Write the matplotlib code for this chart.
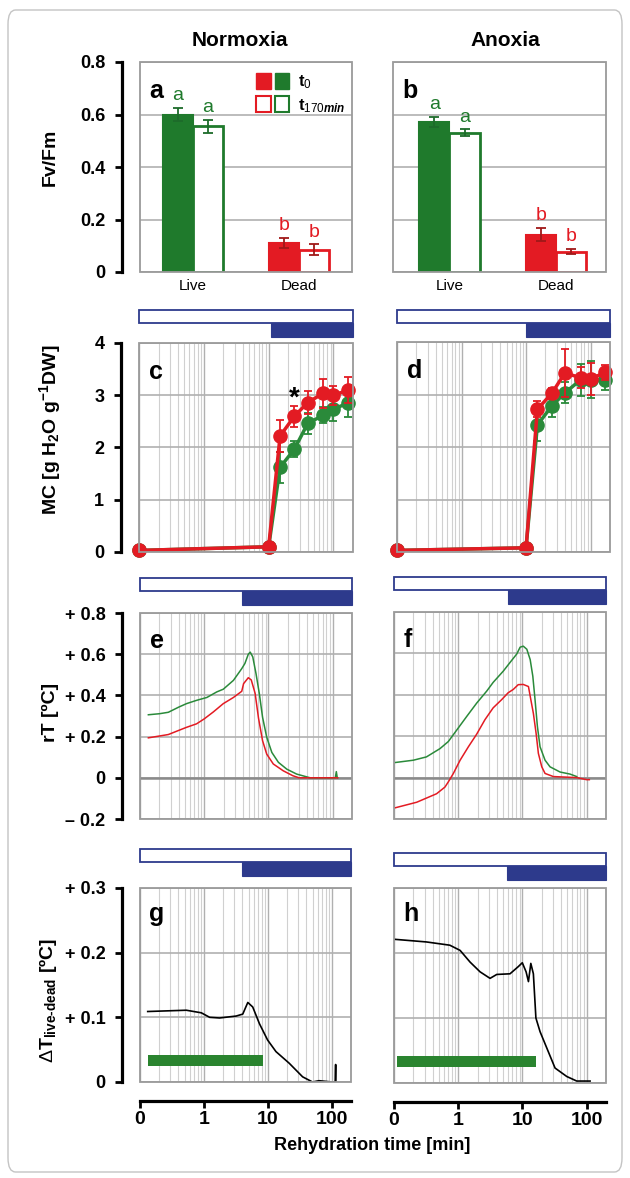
import numpy as np
import matplotlib
matplotlib.use("Agg")
import matplotlib.pyplot as plt
from matplotlib.patches import Rectangle, Patch, FancyBboxPatch
from matplotlib.legend_handler import HandlerTuple
from matplotlib.transforms import blended_transform_factory
from matplotlib.ticker import FixedLocator, LogLocator, NullFormatter

plt.rcParams['font.family'] = ['Liberation Sans', 'DejaVu Sans']
plt.rcParams['mathtext.fontset'] = 'custom'
plt.rcParams['mathtext.rm'] = 'Liberation Sans'
plt.rcParams['mathtext.bf'] = 'Liberation Sans:bold'
plt.rcParams['mathtext.it'] = 'Liberation Sans:italic:bold'

GREEN = '#1f7a2c'
GREEN_L = '#2a8a3a'
GREEN_E = '#1d6b2a'
RED = '#e31b23'
RED_E = '#a01818'
BLUE = '#2d3a8c'
FRAME = '#9a9a9a'
GRID = '#b0b0b0'
MINOR = '#d0d0d0'

# ---- Fv/Fm (panels a, b) ----
groups = ['Live', 'Dead']
sig_letters = ['a', 'b']
fv_norm_t0 = [0.60, 0.11]
fv_norm_t0_err = [0.025, 0.02]
fv_norm_t170 = [0.555, 0.085]
fv_norm_t170_err = [0.025, 0.02]
fv_anox_t0 = [0.572, 0.142]
fv_anox_t0_err = [0.02, 0.025]
fv_anox_t170 = [0.53, 0.078]
fv_anox_t170_err = [0.013, 0.01]

# ---- moisture content (panels c, d) ----
mc_t = [0.1, 10, 15, 25, 40, 70, 100, 170]
mc_norm_live = [0.03, 0.1, 1.62, 1.97, 2.46, 2.62, 2.73, 2.86]
mc_norm_live_err = [0, 0, 0.3, 0.15, 0.2, 0.15, 0.22, 0.28]
mc_norm_dead = [0.03, 0.1, 2.22, 2.6, 2.86, 3.04, 3.0, 3.1]
mc_norm_dead_err = [0, 0, 0.3, 0.2, 0.22, 0.28, 0.18, 0.25]
mc_anox_live = [0.03, 0.08, 2.42, 2.78, 3.03, 3.28, 3.28, 3.28]
mc_anox_live_err = [0, 0, 0.3, 0.2, 0.2, 0.3, 0.35, 0.2]
mc_anox_dead = [0.03, 0.08, 2.72, 3.02, 3.41, 3.32, 3.3, 3.42]
mc_anox_dead_err = [0, 0, 0.15, 0.1, 0.45, 0.2, 0.3, 0.15]

# ---- relative temperature (panels e, f) ----
rt_norm_live_t = [0.135, 0.2, 0.276, 0.40, 0.53, 0.76, 1.1, 1.57, 1.98, 2.85, 3.84, 4.3, 4.86,
                  5.2, 5.7, 6.4, 7.2, 8.1, 9.4, 11.3, 14.3, 19.3, 27.5, 44.6, 110, 114, 118]
rt_norm_live = [0.306, 0.311, 0.318, 0.343, 0.36, 0.376, 0.39, 0.417, 0.43, 0.473, 0.53, 0.555, 0.60,
                0.61, 0.587, 0.506, 0.41, 0.294, 0.197, 0.123, 0.075, 0.042, 0.018, 0.0, 0.0, 0.03, 0.0]
rt_norm_dead_t = [0.135, 0.276, 0.40, 0.53, 0.76, 1.0, 1.39, 1.98, 2.85, 3.84, 4.1, 4.86, 5.4,
                  6.2, 7.0, 8.1, 9.4, 11.9, 17, 24, 30, 120]
rt_norm_dead = [0.194, 0.21, 0.23, 0.245, 0.262, 0.286, 0.32, 0.36, 0.39, 0.42, 0.457, 0.486, 0.475,
                0.41, 0.29, 0.18, 0.115, 0.067, 0.034, 0.01, 0.0, 0.0]
rt_anox_live_t = [0.105, 0.2, 0.32, 0.52, 0.70, 0.95, 1.36, 1.94, 2.78, 3.5, 5.05, 6.4, 8.15, 9.2,
                  10.3, 11.7, 13.2, 14.5, 15.7, 17.1, 18.8, 22.5, 26.9, 38.5, 55, 70]
rt_anox_live = [0.073, 0.084, 0.10, 0.14, 0.174, 0.23, 0.296, 0.36, 0.418, 0.46, 0.515, 0.556, 0.597, 0.63,
                0.635, 0.62, 0.57, 0.49, 0.377, 0.247, 0.149, 0.084, 0.052, 0.027, 0.017, 0.005]
rt_anox_dead_t = [0.104, 0.226, 0.46, 0.62, 0.70, 0.84, 1.07, 1.44, 1.94, 2.61, 3.5, 4.76, 6.0, 7.2,
                  8.6, 10.3, 12.4, 13.5, 14.8, 16.3, 17.7, 20, 22.5, 30.3, 70, 100, 110]
rt_anox_dead = [-0.146, -0.119, -0.078, -0.046, -0.021, 0.02, 0.084, 0.149, 0.21, 0.28, 0.337, 0.377, 0.41,
                0.426, 0.449, 0.45, 0.44, 0.377, 0.31, 0.215, 0.117, 0.052, 0.02, 0.005, 0.0, -0.01, -0.01]

# ---- live minus dead (panels g, h) ----
dt_norm_t = [0.132, 0.53, 0.91, 1.23, 1.76, 3.2, 4.05, 4.86, 5.8, 7.4, 9.9, 13.4, 21.6, 35, 50, 63, 101, 113, 115, 116]
dt_norm = [0.109, 0.111, 0.107, 0.10, 0.099, 0.102, 0.105, 0.123, 0.116, 0.09, 0.065, 0.047, 0.029, 0.008, 0.0, 0.002, 0.0, 0.0, 0.027, 0.0]
dt_anox_t = [0.104, 0.32, 0.74, 1.07, 1.53, 2.19, 3.13, 3.98, 6.4, 8.6, 9.95, 11.4, 12.4, 13.5, 14.8, 16.2, 18.8, 23.9, 32.2, 49, 70, 113]
dt_anox = [0.221, 0.217, 0.212, 0.204, 0.186, 0.171, 0.161, 0.167, 0.168, 0.179, 0.185, 0.171, 0.156, 0.184, 0.168, 0.10, 0.079, 0.054, 0.023, 0.01, 0.003, 0.003]
sig_period_norm = [0.132, 8.4]
sig_period_anox = [0.11, 16.1]

# phase strips: start of the filled part
phase_start = {'c': 10.9, 'd': 10.0, 'e': 3.9, 'f': 6.0, 'g': 3.9, 'h': 5.8}

t_ticks = [0.1, 1, 10, 100]
t_labels = ['0', '1', '10', '100']

W, H = 630, 1178
fig = plt.figure(figsize=(W / 100, H / 100), dpi=100)

border = FancyBboxPatch((8 / W, 1 - 1172 / H), 614 / W, 1162 / H,
                        boxstyle='round,pad=0,rounding_size=0.012',
                        transform=fig.transFigure, fc='none', ec='#c4c4c4', lw=1)
fig.patches.append(border)


def add_ax(x0, y0, x1, y1):
    ax = fig.add_axes([x0 / W, 1 - y1 / H, (x1 - x0) / W, (y1 - y0) / H])
    for s in ax.spines.values():
        s.set_visible(False)
    ax.add_patch(Rectangle((0, 0), 1, 1, transform=ax.transAxes, fill=False,
                           ec=FRAME, lw=1.3, zorder=5, clip_on=False))
    ax.tick_params(axis='both', which='both', length=0)
    ax.set_yticklabels([])
    return ax


def left_axis(ax, ticks, labels):
    ax.spines['left'].set_visible(True)
    ax.spines['left'].set_position(('outward', 13))
    ax.spines['left'].set_color('black')
    ax.spines['left'].set_linewidth(2.3)
    ax.set_yticks(ticks)
    ax.set_yticklabels(labels, fontsize=13, fontweight='bold')
    ax.tick_params(axis='y', length=5, width=2, direction='out', pad=7)


def time_axis(ax):
    ax.set_xscale('log')
    ax.set_xlim(0.1, 200)
    ax.xaxis.set_major_locator(FixedLocator(t_ticks))
    ax.xaxis.set_minor_locator(LogLocator(base=10, subs=np.arange(2, 10), numticks=20))
    ax.xaxis.set_minor_formatter(NullFormatter())
    ax.set_xticklabels([])
    ax.grid(True, which='major', axis='x', color=GRID, lw=1.0)
    ax.grid(True, which='minor', axis='x', color=MINOR, lw=0.8)
    ax.tick_params(axis='x', which='both', length=0)


def phase_strip(ax, start, top_px):
    pos = ax.get_position()
    ax_top = (1 - pos.y1) * H
    hpx = pos.height * H
    tr = blended_transform_factory(ax.transData, ax.transAxes)
    y_open = 1 + (ax_top - top_px - 13) / hpx
    y_fill = 1 + (ax_top - top_px - 27) / hpx
    ax.add_patch(Rectangle((0.1, y_open), 200 - 0.1, 13 / hpx, transform=tr,
                           fc='white', ec=BLUE, lw=1.3, clip_on=False))
    ax.add_patch(Rectangle((start, y_fill), 200 - start, 14 / hpx, transform=tr,
                           fc=BLUE, ec=BLUE, lw=0.8, clip_on=False))


def panel_letter(ax, s):
    ax.text(0.045, 0.83, s, transform=ax.transAxes, fontsize=18,
            fontweight='bold', va='baseline', ha='left', zorder=6)


def bar_panel(ax, t0, t0e, t170, t170e, centres):
    w = 0.285
    cols = [GREEN, RED]
    ecols = [GREEN_E, RED_E]
    for i in range(len(groups)):
        ax.bar(i - w / 2, t0[i], w, color=cols[i], ec=cols[i], lw=1.5, zorder=3)
        ax.bar(i + w / 2, t170[i], w, color='white', ec=cols[i], lw=2, zorder=3)
        ax.errorbar(i - w / 2, t0[i], yerr=t0e[i], color=ecols[i], capsize=3.5,
                    lw=1.3, capthick=1.3, zorder=4)
        ax.errorbar(i + w / 2, t170[i], yerr=t170e[i], color=ecols[i], capsize=3.5,
                    lw=1.3, capthick=1.3, zorder=4)
        ax.text(i - w / 2, t0[i] + t0e[i] + 0.03, sig_letters[i], color=cols[i],
                ha='center', va='baseline', fontsize=14)
        ax.text(i + w / 2, t170[i] + t170e[i] + 0.03, sig_letters[i], color=cols[i],
                ha='center', va='baseline', fontsize=14)
    ax.set_xlim(centres)
    ax.set_ylim(0, 0.8)
    ax.set_yticks([0, 0.2, 0.4, 0.6, 0.8])
    ax.grid(True, axis='y', color=GRID, lw=1.2)
    ax.set_axisbelow(True)
    ax.set_xticks(range(len(groups)))
    ax.set_xticklabels(groups, fontsize=11)
    ax.tick_params(axis='x', length=0, pad=5)


# ---------- panels a, b ----------
ax_a = add_ax(140, 62, 352, 272)
bar_panel(ax_a, fv_norm_t0, fv_norm_t0_err, fv_norm_t170, fv_norm_t170_err, (-0.5, 1.5))
left_axis(ax_a, [0, 0.2, 0.4, 0.6, 0.8], ['0', '0.2', '0.4', '0.6', '0.8'])
panel_letter(ax_a, 'a')
h0 = (Patch(fc=RED, ec=RED), Patch(fc=GREEN, ec=GREEN))
h1 = (Patch(fc='white', ec=RED, lw=1.5), Patch(fc='white', ec=GREEN, lw=1.5))
ax_a.legend([h0, h1], [r'$\mathbf{t}_\mathit{0}$', r'$\mathbf{t}_\mathit{170min}$'],
            handler_map={tuple: HandlerTuple(ndivide=None, pad=0.25)},
            loc='upper left', bbox_to_anchor=(0.5, 0.995), frameon=False,
            handlelength=2.0, handleheight=1.1, handletextpad=0.5,
            labelspacing=0.3, fontsize=12, borderaxespad=0.2)

ax_b = add_ax(393, 62, 606, 272)
bar_panel(ax_b, fv_anox_t0, fv_anox_t0_err, fv_anox_t170, fv_anox_t170_err, (-0.53, 1.47))
ax_b.set_yticklabels([])
panel_letter(ax_b, 'b')

# ---------- panels c, d ----------
def mc_panel(ax, live, live_err, dead, dead_err):
    time_axis(ax)
    ax.set_ylim(0, 4)
    ax.set_yticks([0, 1, 2, 3, 4])
    ax.grid(True, axis='y', color=GRID, lw=1.2)
    ax.set_axisbelow(True)
    ax.errorbar(mc_t, live, yerr=live_err, color=GREEN_L, marker='o', ms=9.5,
                lw=2.5, elinewidth=1.3, capsize=3, capthick=1.3, zorder=3, clip_on=False)
    ax.errorbar(mc_t, dead, yerr=dead_err, color=RED, marker='o', ms=9.5,
                lw=2.5, elinewidth=1.3, capsize=3, capthick=1.3, zorder=4, clip_on=False)


ax_c = add_ax(139, 343, 353, 552)
mc_panel(ax_c, mc_norm_live, mc_norm_live_err, mc_norm_dead, mc_norm_dead_err)
left_axis(ax_c, [0, 1, 2, 3, 4], ['0', '1', '2', '3', '4'])
ax_c.text(mc_t[3], mc_norm_dead[3] + mc_norm_dead_err[3] + 0.0, '*', fontsize=20,
          fontweight='bold', ha='center', va='baseline')
panel_letter(ax_c, 'c')
phase_strip(ax_c, phase_start['c'], 310)

ax_d = add_ax(397, 342, 610, 552)
mc_panel(ax_d, mc_anox_live, mc_anox_live_err, mc_anox_dead, mc_anox_dead_err)
ax_d.set_yticklabels([])
panel_letter(ax_d, 'd')
phase_strip(ax_d, phase_start['d'], 310)

# ---------- panels e, f ----------
rt_ticks = [-0.2, 0, 0.2, 0.4, 0.6, 0.8]
rt_labels = ['\u2013 0.2', '0', '+ 0.2', '+ 0.4', '+ 0.6', '+ 0.8']


def rt_panel(ax, lt, lv, dt, dv):
    time_axis(ax)
    ax.set_ylim(-0.2, 0.8)
    ax.set_yticks(rt_ticks)
    ax.grid(True, axis='y', color=GRID, lw=1.2)
    ax.set_axisbelow(True)
    ax.axhline(0, color='#8a8a8a', lw=1.8, zorder=2)
    ax.plot(lt, lv, color=GREEN_L, lw=1.1, zorder=3)
    ax.plot(dt, dv, color=RED, lw=1.1, zorder=3)


ax_e = add_ax(140, 613, 352, 819)
rt_panel(ax_e, rt_norm_live_t, rt_norm_live, rt_norm_dead_t, rt_norm_dead)
left_axis(ax_e, rt_ticks, rt_labels)
panel_letter(ax_e, 'e')
phase_strip(ax_e, phase_start['e'], 578)

ax_f = add_ax(394, 612, 606, 819)
rt_panel(ax_f, rt_anox_live_t, rt_anox_live, rt_anox_dead_t, rt_anox_dead)
ax_f.set_yticklabels([])
panel_letter(ax_f, 'f')
phase_strip(ax_f, phase_start['f'], 577)

# ---------- panels g, h ----------
dt_ticks = [0, 0.1, 0.2, 0.3]
dt_labels = ['0', '+ 0.1', '+ 0.2', '+ 0.3']


def dt_panel(ax, t, v, period):
    time_axis(ax)
    ax.set_ylim(0, 0.3)
    ax.set_yticks(dt_ticks)
    ax.grid(True, axis='y', color=GRID, lw=1.2)
    ax.set_axisbelow(True)
    ax.plot(t, v, color='black', lw=1.2, zorder=3)
    ax.fill_between(period, 0.024, 0.041, color='#2a842f', lw=0, zorder=3)
    ax.spines['bottom'].set_visible(True)
    ax.spines['bottom'].set_position(('outward', 14))
    ax.spines['bottom'].set_color('black')
    ax.spines['bottom'].set_linewidth(2.3)
    ax.set_xticklabels(t_labels, fontsize=14, fontweight='bold')
    ax.tick_params(axis='x', which='major', length=5, width=2, direction='out', pad=2)


ax_g = add_ax(140, 888, 351, 1082)
dt_panel(ax_g, dt_norm_t, dt_norm, sig_period_norm)
left_axis(ax_g, dt_ticks, dt_labels)
panel_letter(ax_g, 'g')
phase_strip(ax_g, phase_start['g'], 849)

ax_h = add_ax(394, 888, 606, 1083)
dt_panel(ax_h, dt_anox_t, dt_anox, sig_period_anox)
ax_h.set_yticklabels([])
panel_letter(ax_h, 'h')
phase_strip(ax_h, phase_start['h'], 853)

# ---------- titles and axis labels ----------
fig.text(240 / W, 1 - 40 / H, 'Normoxia', fontsize=15, fontweight='bold', ha='center', va='center')
fig.text(505 / W, 1 - 40 / H, 'Anoxia', fontsize=15, fontweight='bold', ha='center', va='center')
fig.text(50 / W, 1 - 157 / H, 'Fv/Fm', fontsize=14, fontweight='bold', rotation=90,
         ha='center', va='center')
fig.text(50 / W, 1 - 430 / H, r'MC [g H$_\mathbf{2}$O g$^\mathbf{-1}$DW]', fontsize=14,
         fontweight='bold', rotation=90, ha='center', va='center')
fig.text(50 / W, 1 - 712 / H, 'rT [ºC]', fontsize=14, fontweight='bold', rotation=90,
         ha='center', va='center')
fig.text(48 / W, 1 - 1000 / H, '$\\Delta$$\\mathbf{T_{live\u2010dead}}$ [ºC]', fontsize=14,
         fontweight='bold', rotation=90, ha='center', va='center')
fig.text(372 / W, 1 - 1146 / H, 'Rehydration time [min]', fontsize=13, fontweight='bold',
         ha='center', va='center')

fig.savefig('out.png', dpi=100)
